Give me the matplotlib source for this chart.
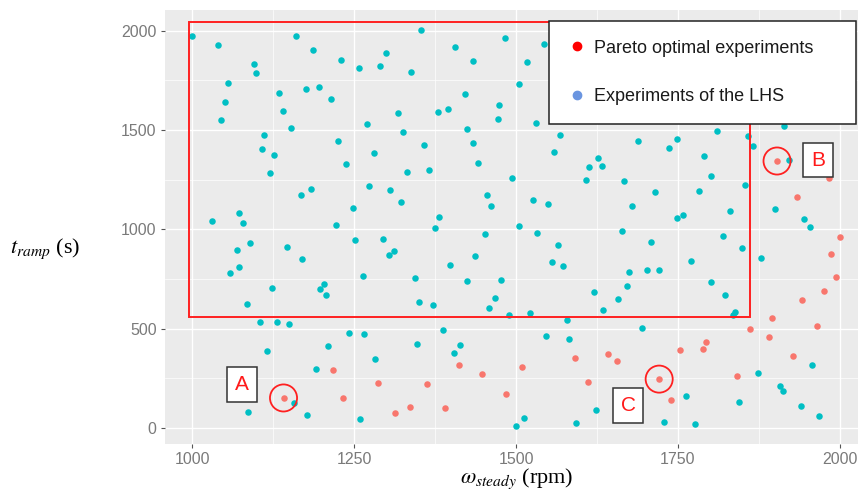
import matplotlib
matplotlib.use('Agg')
import matplotlib.pyplot as plt
from matplotlib.patches import Rectangle
from matplotlib.lines import Line2D
from matplotlib.ticker import MultipleLocator

plt.rcParams['font.family'] = ['Liberation Sans', 'DejaVu Sans']
plt.rcParams['mathtext.fontset'] = 'stix'

# LHS experiments (omega_steady in rpm, t_ramp in s)
lhs_speed = [1000, 1040, 1161, 1187, 1299, 1229, 1095, 1290, 1257, 1099, 1056, 1134, 1176, 1196, 1214, 1050,
             1140, 1318, 1045, 1270, 1153, 1111, 1225, 1108, 1126, 1280, 1238, 1120, 1273, 1184, 1168, 1305,
             1322, 1248, 1072, 1030, 1078, 1222,
             1353, 1483, 1543, 1405, 1433, 1517, 1338, 1505, 1421, 1474, 1379, 1395, 1472, 1531, 1326, 1425,
             1568, 1358, 1434, 1558, 1627, 1613, 1633, 1442, 1332, 1366, 1494, 1608, 1666, 1455, 1526, 1550,
             1462, 1381, 1375, 1504, 1664,
             1914, 1810, 1858, 1688, 1748, 1736, 1866, 1790, 1921, 1801, 1854, 1714, 1783, 1679, 1900, 1831,
             1758, 1749, 1945, 1954,
             1090, 1069, 1147, 1251, 1295, 1304, 1311, 1169, 1073, 1059, 1263, 1123, 1203, 1198, 1207, 1084,
             1104, 1131, 1149, 1242, 1265, 1115, 1209, 1282, 1191, 1157, 1086, 1178, 1259,
             1452, 1533, 1565, 1437, 1398, 1556, 1572, 1674, 1344, 1424, 1477, 1671, 1620, 1468, 1657, 1350,
             1372, 1459, 1635, 1489, 1522, 1578, 1387, 1547, 1582, 1347, 1414, 1404, 1624, 1513, 1500, 1593,
             1819, 1708, 1849, 1878, 1770, 1702, 1720, 1801, 1822, 1838, 1835, 1694, 1957, 1874, 1908, 1912,
             1763, 1845, 1940, 1968, 1728, 1777]
lhs_tramp = [1976, 1929, 1973, 1902, 1890, 1855, 1835, 1825, 1813, 1788, 1736, 1687, 1709, 1717, 1658, 1642,
             1598, 1588, 1549, 1529, 1512, 1477, 1444, 1405, 1376, 1383, 1328, 1282, 1217, 1205, 1171, 1198,
             1139, 1106, 1084, 1042, 1032, 1022,
             2003, 1963, 1934, 1919, 1848, 1845, 1791, 1731, 1680, 1628, 1591, 1608, 1556, 1534, 1489, 1504,
             1474, 1423, 1433, 1390, 1361, 1314, 1318, 1336, 1290, 1300, 1257, 1250, 1243, 1173, 1149, 1129,
             1119, 1062, 1004, 1017, 992,
             1521, 1497, 1469, 1447, 1454, 1411, 1420, 1369, 1351, 1270, 1223, 1186, 1192, 1116, 1101, 1094,
             1072, 1058, 1052, 1012,
             929, 894, 911, 945, 950, 870, 889, 850, 810, 778, 766, 703, 723, 698, 670, 623,
             534, 531, 521, 479, 472, 388, 410, 346, 296, 124, 78, 64, 42,
             975, 983, 922, 865, 822, 834, 817, 783, 756, 738, 743, 714, 684, 654, 647, 632,
             620, 603, 595, 568, 578, 543, 492, 464, 449, 422, 417, 378, 88, 49, 10, 24,
             966, 934, 904, 857, 842, 796, 796, 733, 667, 583, 568, 503, 315, 277, 210, 183,
             160, 128, 111, 59, 30, 20]

# Pareto optimal experiments
pareto_speed = [1903, 1983, 1934, 1217, 1287, 1141, 1233, 1313, 1412, 1509, 1591, 1642, 1656, 1447, 1611, 1362,
                1485, 1336, 1390, 2000, 1987, 1994, 1976, 1942, 1895, 1964, 1861, 1890, 1794, 1788, 1753, 1927,
                1841, 1721, 1740]
pareto_tramp = [1344, 1259, 1164, 289, 227, 150, 148, 74, 318, 307, 350, 371, 335, 272, 230, 219,
                170, 104, 98, 963, 877, 760, 691, 644, 553, 513, 496, 459, 430, 398, 393, 360,
                261, 245, 140]

# highlighted experiments and where their tags sit
marked_names = ['A', 'B', 'C']
marked_speed = [1141, 1903, 1721]
marked_tramp = [150, 1344, 245]
tag_speed = [1077, 1966, 1673]
tag_tramp = [218, 1349, 112]

# zone of the design space that was shown to be dominated
zone_speed = (995, 1862)
zone_tramp = (558, 2043)

fig = plt.figure(figsize=(8.58, 4.94), dpi=100)
ax = fig.add_axes([0.1923, 0.1012, 0.8077, 0.8786])
ax.set_facecolor('#EBEBEB')
for s in ax.spines.values():
    s.set_visible(False)

ax.xaxis.set_major_locator(MultipleLocator(250))
ax.xaxis.set_minor_locator(MultipleLocator(125))
ax.yaxis.set_major_locator(MultipleLocator(500))
ax.yaxis.set_minor_locator(MultipleLocator(250))
ax.grid(which='major', color='white', lw=1.0)
ax.grid(which='minor', color='white', lw=0.5)
ax.set_axisbelow(True)
ax.tick_params(which='major', length=3, color='#555555', labelsize=11.5, labelcolor='#7a7a7a', pad=3)
ax.tick_params(which='minor', length=0)

ax.scatter(lhs_speed, lhs_tramp, s=22, color='#00BFC4', lw=0, zorder=3)
ax.scatter(pareto_speed, pareto_tramp, s=22, color='#F8766D', lw=0, zorder=3)

ax.add_patch(Rectangle((zone_speed[0], zone_tramp[0]), zone_speed[1] - zone_speed[0],
                       zone_tramp[1] - zone_tramp[0], fill=False, ec='#ff2020', lw=1.4, zorder=4))

ax.scatter(marked_speed, marked_tramp, s=380, facecolors='none', edgecolors='#ff2020', lw=1.3, zorder=5)
for name, x, y in zip(marked_names, tag_speed, tag_tramp):
    ax.text(x, y, name, color='#ff1a1a', fontsize=15, ha='center', va='center', zorder=6,
            bbox=dict(boxstyle='square,pad=0.38', fc='white', ec='#333333', lw=1.1))

ax.set_xlim(958, 2028)
ax.set_ylim(-82, 2105)

handles = [Line2D([], [], ls='none', marker='o', ms=6, color='red'),
           Line2D([], [], ls='none', marker='o', ms=6, color='#6a95e0')]
leg = ax.legend(handles, ['Pareto optimal experiments', 'Experiments of the LHS'],
                loc='upper left', bbox_to_anchor=(0.554, 0.975, 0.443, 0.0), mode='expand',
                borderaxespad=0, fontsize=13, labelspacing=1.75, handlelength=1.0,
                handletextpad=0.42, borderpad=1.05, fancybox=False, framealpha=1,
                edgecolor='#222222')
leg.get_frame().set_linewidth(1.1)
leg.set_zorder(10)
for t in leg.get_texts():
    t.set_color('#1a1a1a')

fig.text(10 / 858, 1 - 249 / 494, r'$t_{ramp}$ (s)', fontsize=16, family='Liberation Serif',
         ha='left', va='center')
fig.text(517 / 858, 1 - 483 / 494, r'$\omega_{steady}$ (rpm)', fontsize=16, family='Liberation Serif',
         ha='center', va='baseline')

fig.savefig('out.png', dpi=100)
